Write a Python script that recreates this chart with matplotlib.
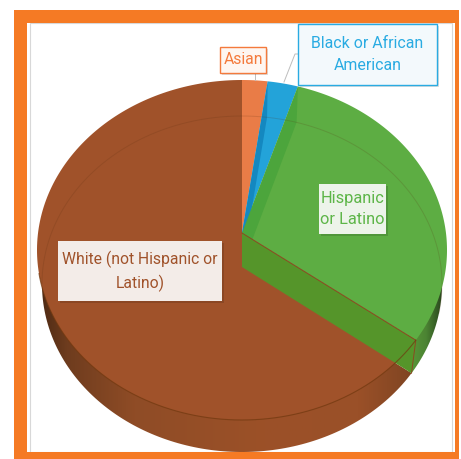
import numpy as np
import matplotlib
matplotlib.use('Agg')
import matplotlib.pyplot as plt
from matplotlib.colors import LinearSegmentedColormap
from matplotlib.patches import Polygon, Rectangle

# shares of the pie, clockwise from 12 o'clock
categories = ['Asian', 'Black or African\nAmerican', 'Hispanic\nor Latino', 'White (not Hispanic or\nLatino)']
values = [2.0, 2.4, 29.5, 66.1]
colors = ['#E97C47', '#23A3D9', '#5DAD43', '#A0522A']
strip_colors = ['#E97C47', '#1488C0', '#4CA53C', '#A0522A']
text_colors = ['#F47A3C', '#29ABE2', '#5DB548', '#A0522A']
box_faces = ['#FEF6F1', '#F3F9FC', '#EDF4EA', '#F3ECE8']

plt.rcParams['font.family'] = ['Roboto', 'DejaVu Sans']

# top and bottom faces of the tilted disc, in pixels
CX = 242
TOP = dict(cy=250, a=205, b=170, vy=233)
BOT = dict(cy=284, a=200, b=168, vy=267)


def rim(face, t):
    t = np.radians(t)
    return np.column_stack([CX + face['a'] * np.sin(t), face['cy'] - face['b'] * np.cos(t)])


def wedge(face, t0, t1):
    arc = rim(face, np.linspace(t0, t1, 200))
    return np.vstack([[CX, face['vy']], arc])


fig = plt.figure(figsize=(4.61, 4.59), dpi=100)
ax = fig.add_axes([0, 0, 1, 1])

edges = np.cumsum([0] + values) * 3.6

# side wall, shaded across its width
brown_cmap = LinearSegmentedColormap.from_list('b', [(0, '#4E2A14'), (0.07, '#6E3C1E'), (0.25, '#8F4C26'),
                                                     (0.6, '#9C5128'), (0.85, '#9A5028'), (1, '#7E4422')])
green_cmap = LinearSegmentedColormap.from_list('g', ['#5A9A38', '#4C8433', '#26401C'])
ramp = np.linspace(0, 1, 256).reshape(1, -1)

im = ax.imshow(ramp, cmap=brown_cmap, extent=(40, 415, 459, 0), aspect='auto', zorder=1)
im.set_clip_path(Polygon(wedge(BOT, edges[3], edges[4]), transform=ax.transData))
im = ax.imshow(ramp, cmap=green_cmap, extent=(408, 444, 459, 0), aspect='auto', zorder=1)
im.set_clip_path(Polygon(wedge(BOT, edges[2], edges[3]), transform=ax.transData))

# top faces
for i in range(4):
    ax.add_patch(Polygon(wedge(TOP, edges[i], edges[i + 1]), fc=colors[i], ec='none', zorder=2))

# inner walls seen through the slices
for i in [1, 2]:
    p0 = rim(TOP, edges[i])[0]
    p1 = rim(BOT, edges[i])[0]
    ax.add_patch(Polygon([(CX, TOP['vy']), p0, p1, (CX, BOT['vy'])], fc=strip_colors[i], ec='none', zorder=3))
p0 = rim(TOP, edges[3])[0]
p1 = rim(BOT, edges[3])[0]
ax.add_patch(Polygon([(CX, TOP['vy']), p0, p1, (CX, BOT['vy'])], fc='#55952A', ec='none', zorder=3))
ax.plot([CX, p0[0], p1[0]], [TOP['vy'], p0[1], p1[1]], color='#8A4A20', lw=0.7, zorder=4)

# faint rims
back = rim(BOT, np.linspace(-90, 100, 300))
ax.plot(back[:, 0], back[:, 1], color='#5A2E10', lw=0.7, alpha=0.18, zorder=4)
front = rim(TOP, np.linspace(edges[3], 262, 300))
ax.plot(front[:, 0], front[:, 1], color='#70380F', lw=0.8, alpha=0.7, zorder=4)

# leaders
ax.plot([255, 255], [73, 80], color='#BDBDBD', lw=0.7, zorder=5)
ax.plot([298, 295, 284], [54, 54, 82], color='#BDBDBD', lw=0.7, zorder=5)

# labels
boxes = [(220, 47, 46, 26), (298, 24, 139, 61), (319, 184, 67, 50), (58, 241, 164, 60)]
sizes = [11.3, 11.4, 11.8, 11.3]
for label, box, face, edge, tc, fs in zip(categories, boxes, box_faces, text_colors, text_colors, sizes):
    x, y, w, h = box
    ax.add_patch(Rectangle((x + 1.5, y + 1.5), w, h, fc='black', alpha=0.13, ec='none', zorder=6))
    has_edge = label in categories[:2]
    ax.add_patch(Rectangle((x, y), w, h, fc=face, ec=edge if has_edge else 'none', lw=1.0, zorder=7))
    ax.text(x + w / 2, y + h / 2, label, color=tc, fontsize=fs, ha='center', va='center',
            linespacing=1.5, zorder=8)

# frame
ax.add_patch(Rectangle((30, 23), 422, 429, fc='none', ec='#D8D8D8', lw=0.8, zorder=0))
for r in [(14, 10, 445, 13), (14, 452, 445, 7), (14, 10, 13, 449), (455, 10, 4, 449)]:
    ax.add_patch(Rectangle((r[0], r[1]), r[2], r[3], fc='#F57A24', ec='none', zorder=9))

ax.set_xlim(0, 461)
ax.set_ylim(459, 0)
ax.axis('off')
fig.savefig('out.png', dpi=100)
